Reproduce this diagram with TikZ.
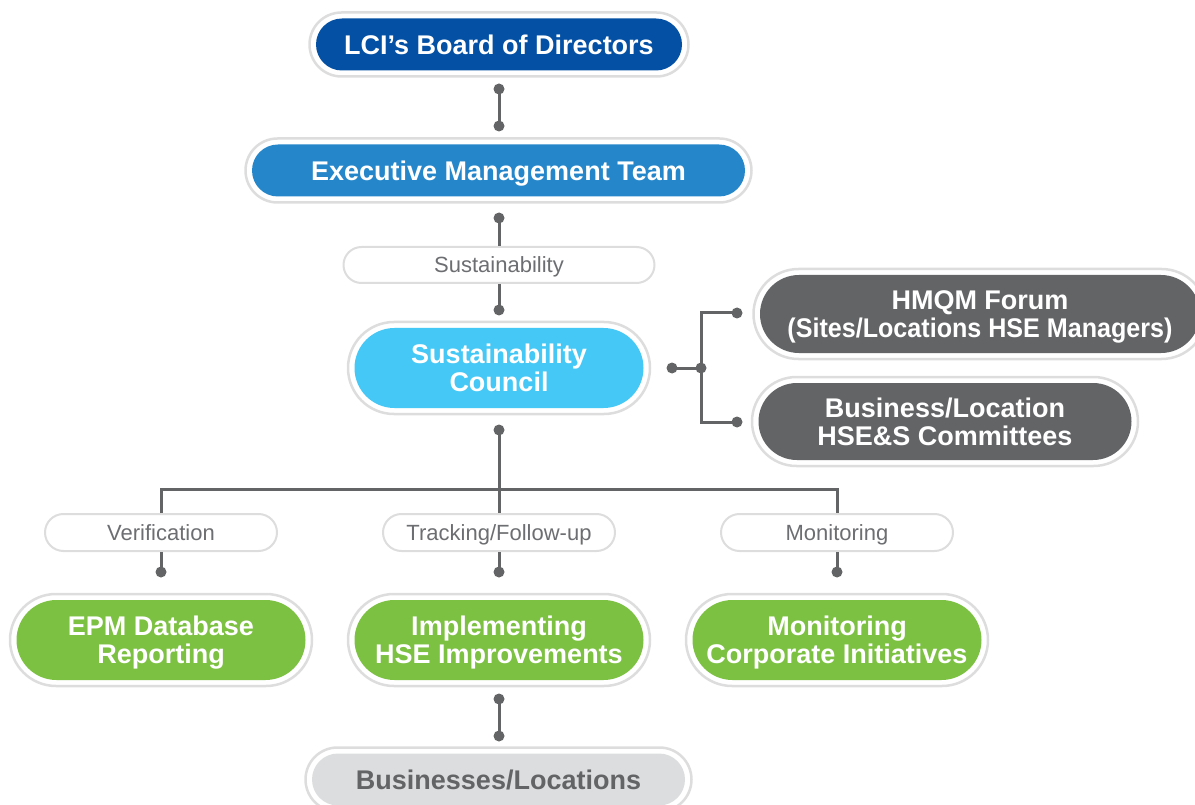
\documentclass[tikz,border=0pt]{standalone}
\usepackage{fontspec}
\usepackage{graphicx}
\setmainfont{Liberation Sans}
\usetikzlibrary{calc}
\definecolor{cBoard}{HTML}{0450A4}
\definecolor{cExec}{HTML}{2587CA}
\definecolor{cCouncil}{HTML}{45C8F5}
\definecolor{cGreen}{HTML}{7DC142}
\definecolor{cDark}{HTML}{636466}
\definecolor{cLight}{HTML}{DCDDDE}
\definecolor{cRing}{HTML}{DDDDDD}
\definecolor{cLabel}{HTML}{6D6E71}
\tikzset{
  ring/.style={draw=cRing, line width=2.5pt, fill=white, inner sep=0pt},
  pillbox/.style={fill=#1, text=white, font=\fontsize{27}{28}\selectfont\bfseries, align=center, inner sep=0pt},
  greybox/.style={fill=cLight, text=cDark, font=\fontsize{27}{28}\selectfont\bfseries, align=center, inner sep=0pt},
  oneline/.style={text height=19.3pt, text depth=0pt},
  lab/.style={draw=cRing, line width=2pt, fill=white, text=cLabel, font=\fontsize{22}{22}\selectfont, inner sep=0pt, text height=15.75pt, text depth=0pt},
  conn/.style={draw=cDark, line width=3pt},
}
\newcommand\nodepth[1]{\raisebox{0pt}[\height][0pt]{#1}}
\newcommand\mypill[7]{%
  \pgfmathsetmacro\ow{#4+13}\pgfmathsetmacro\oh{#5+12}%
  \pgfmathsetmacro\orr{\oh/2-0.01}\pgfmathsetmacro\irr{#5/2-0.01}%
  \node[ring, minimum width=\ow pt, minimum height=\oh pt, rounded corners=\orr pt] (#1-o) at (#2,#3) {};
  \node[#6, minimum width=#4pt, minimum height=#5pt, rounded corners=\irr pt] (#1) at (#2,#3) {#7};}
\begin{document}
\begin{tikzpicture}[x=1pt,y=-1pt]
\useasboundingbox (0,0) rectangle (1195,805);
% boxes
\mypill{board}{499}{44.5}{366}{52}{pillbox=cBoard, oneline}{LCI’s Board of Directors}
\mypill{exec}{498.5}{170.5}{493}{52}{pillbox=cExec, oneline}{Executive Management Team}
\mypill{council}{499}{368}{289}{80}{pillbox=cCouncil}{Sustainability\\Council}
\mypill{hmqm}{980}{314}{440}{78}{pillbox=cDark}{HMQM Forum\\\nodepth{\scalebox{0.93}[1]{(Sites/Locations HSE Managers)}}}
\mypill{hses}{945}{421.5}{373}{77}{pillbox=cDark}{Business/Location\\HSE\&S Committees}
\mypill{epm}{161}{640}{289}{80}{pillbox=cGreen}{EPM Database\\\nodepth{Reporting}}
\mypill{impl}{499}{640}{289}{80}{pillbox=cGreen}{Implementing\\\nodepth{HSE Improvements}}
\mypill{moni}{837}{640}{289}{80}{pillbox=cGreen}{Monitoring\\\nodepth{Corporate Initiatives}}
\mypill{busi}{498.5}{779.5}{373}{52}{greybox, oneline}{Businesses/Locations}
% labels
\node[lab, minimum width=311pt, minimum height=36pt, rounded corners=17.99pt] (lsus) at (499,265) {Sustainability};
\node[lab, minimum width=232pt, minimum height=37pt, rounded corners=18.49pt] (lver) at (161,532.5) {Verification};
\node[lab, minimum width=232pt, minimum height=37pt, rounded corners=18.49pt] (ltrk) at (499,532.5) {Tracking/Follow-up};
\node[lab, minimum width=232pt, minimum height=37pt, rounded corners=18.49pt] (lmon) at (837,532.5) {Monitoring};
% connector points
\coordinate (d1) at (499,89);
\coordinate (d2) at (499,126);
\coordinate (d3) at (499,218);
\coordinate (d4) at (499,310);
\coordinate (d5) at (499,430);
\coordinate (jb) at (499,489);
\coordinate (d6) at (161,572);
\coordinate (d7) at (499,572);
\coordinate (d8) at (837,572);
\coordinate (d9) at (499,699);
\coordinate (d10) at (499,736);
\coordinate (dr) at (672,368);
\coordinate (jr) at (701,368);
\coordinate (dh) at (737,313);
\coordinate (db) at (737,422);
% connectors
\draw[conn] (d1) -- (d2);
\draw[conn] (d3) -- (lsus.north);
\draw[conn] (lsus.south) -- (d4);
\draw[conn] (d5) -- (jb);
\draw[conn] (lver.north) -- (lver.north |- jb) -- (lmon.north |- jb) -- (lmon.north);
\draw[conn] (jb) -- (ltrk.north);
\draw[conn] (lver.south) -- (d6);
\draw[conn] (ltrk.south) -- (d7);
\draw[conn] (lmon.south) -- (d8);
\draw[conn] (d9) -- (d10);
\draw[conn] (dr) -- (jr);
\draw[conn] (dh) -- (jr |- dh) -- (jr |- db) -- (db);
\foreach \p in {d1,d2,d3,d4,d5,d6,d7,d8,d9,d10,dr,jr,dh,db}
  \fill[cDark] (\p) circle (5.5pt);
\end{tikzpicture}
\end{document}
